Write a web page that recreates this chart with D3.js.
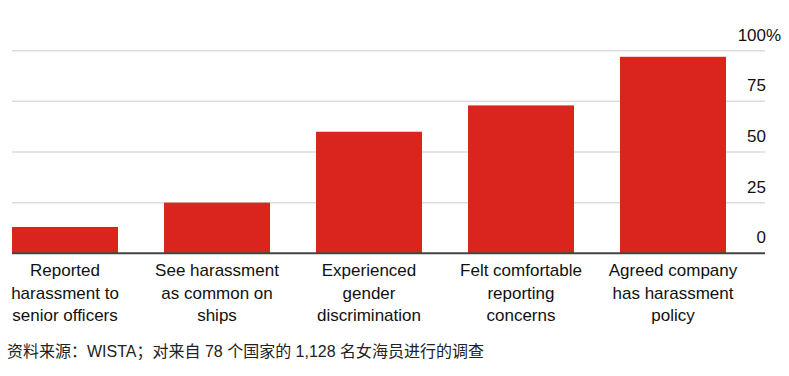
<!DOCTYPE html>
<html>
<head>
<meta charset="utf-8">
<script src="https://cdn.jsdelivr.net/npm/d3@7"></script>
<style>
  body { margin: 0; background: #fff; }
  svg text { font-family: "Liberation Sans", Arial, "Noto Sans CJK SC", sans-serif; fill: #111; }
  .grid line { stroke: #ddd; stroke-width: 1.5; }
</style>
</head>
<body>
<div id="chart"></div>
<script>
// datos
const categories = [
  "Reported harassment to senior officers",
  "See harassment as common on ships",
  "Experienced gender discrimination",
  "Felt comfortable reporting concerns",
  "Agreed company has harassment policy"
];
const labelLines = [
  ["Reported", "harassment to", "senior officers"],
  ["See harassment", "as common on", "ships"],
  ["Experienced", "gender", "discrimination"],
  ["Felt comfortable", "reporting", "concerns"],
  ["Agreed company", "has harassment", "policy"]
];
const values = [13, 25, 60, 73, 97];
const ticks = [0, 25, 50, 75, 100];
const source = "资料来源：WISTA；对来自 78 个国家的 1,128 名女海员进行的调查";

const W = 789, H = 376;
const svg = d3.select("#chart").append("svg")
  .attr("width", W)
  .attr("height", H);

const x = d3.scaleBand()
  .domain(categories)
  .range([12, 726])
  .paddingInner(46 / 152)
  .paddingOuter(0);

const y = d3.scaleLinear()
  .domain([0, 100])
  .range([253.3, 50.7]);

// lineas de la grilla
const grid = svg.append("g").attr("class", "grid");
grid.selectAll("line")
  .data(ticks.filter(t => t > 0))
  .enter()
  .append("line")
  .attr("x1", 12)
  .attr("x2", 765)
  .attr("y1", d => y(d))
  .attr("y2", d => y(d));

// etiquetas eje y
const yLab = svg.append("g");
yLab.selectAll("text")
  .data(ticks)
  .enter()
  .append("text")
  .attr("x", 766)
  .attr("y", d => y(d) - 10)
  .attr("text-anchor", "end")
  .style("font-size", "17px")
  .text(d => d);

// el % cuelga a la derecha
yLab.append("text")
  .attr("x", 766)
  .attr("y", y(100) - 10)
  .style("font-size", "17px")
  .text("%");

// barras
svg.append("g").selectAll("rect")
  .data(values)
  .enter()
  .append("rect")
  .attr("x", (d, i) => x(categories[i]))
  .attr("y", d => y(d))
  .attr("width", x.bandwidth())
  .attr("height", d => y(0) - y(d))
  .attr("fill", "#DA251F");

// linea base
svg.append("line")
  .attr("x1", 12)
  .attr("x2", 765)
  .attr("y1", y(0))
  .attr("y2", y(0))
  .attr("stroke", "#444")
  .attr("stroke-width", 2);

// etiquetas eje x
const lbl = svg.append("g").selectAll("text")
  .data(categories)
  .enter()
  .append("text")
  .attr("text-anchor", "middle")
  .style("font-size", "17px");

lbl.selectAll("tspan")
  .data((d, i) => labelLines[i].map(t => ({ t: t, c: d })))
  .enter()
  .append("tspan")
  .attr("x", d => x(d.c) + x.bandwidth() / 2)
  .attr("y", (d, j) => 276 + j * 22.5)
  .text(d => d.t);

// fuente
svg.append("text")
  .attr("x", 7)
  .attr("y", 357)
  .style("font-size", "16px")
  .style("fill", "#222")
  .text(source);
</script>
</body>
</html>
